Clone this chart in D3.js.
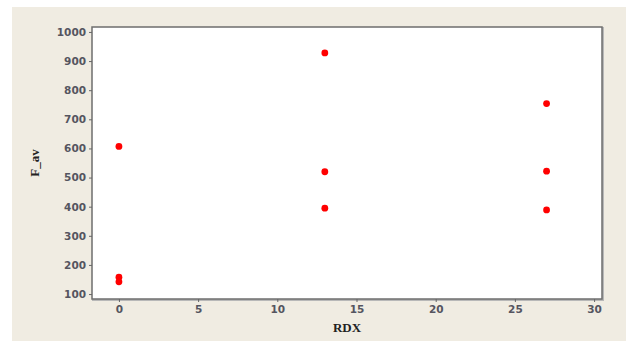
<!DOCTYPE html>
<html><head><meta charset="utf-8">
<script src="https://cdn.jsdelivr.net/npm/d3@7"></script>
<style>body{margin:0;background:#fff}svg{display:block}</style>
</head><body>
<svg id="c" width="626" height="341"></svg>
<script>
const rdx = [0, 0, 0, 13, 13, 13, 27, 27, 27];
const fav = [607, 158, 142, 928, 520, 395, 754, 522, 389];
const xTicks = [0, 5, 10, 15, 20, 25, 30];
const yTicks = [100, 200, 300, 400, 500, 600, 700, 800, 900, 1000];

const svg = d3.select("#c");
svg.append("rect").attr("x", 12).attr("y", 7).attr("width", 614).attr("height", 334).attr("fill", "#f0ece2");

const L = 92, R = 602, T = 27, B = 299;
const x = d3.scaleLinear().domain([-1.7, 30.5]).range([L, R]);
const y = d3.scaleLinear().domain([83, 1017]).range([B, T]);

// shadow + frame
svg.append("rect").attr("x", L + 1).attr("y", T + 1).attr("width", R - L).attr("height", B - T)
  .attr("fill", "none").attr("stroke", "#b8b8b8").attr("stroke-width", 2);
svg.append("rect").attr("x", L).attr("y", T).attr("width", R - L).attr("height", B - T)
  .attr("fill", "#fff").attr("stroke", "#6e6e6e").attr("stroke-width", 1.5);

const tickColor = "#555560";
const xa = svg.append("g").attr("transform", `translate(0,${B})`)
  .call(d3.axisBottom(x).tickValues(xTicks).tickFormat(d3.format("d")).tickSize(3).tickSizeOuter(0).tickPadding(4));
const ya = svg.append("g").attr("transform", `translate(${L},0)`)
  .call(d3.axisLeft(y).tickValues(yTicks).tickFormat(d3.format("d")).tickSize(3).tickSizeOuter(0).tickPadding(3));
[xa, ya].forEach(a => {
  a.select(".domain").remove();
  a.selectAll(".tick line").attr("stroke", "#666");
  a.selectAll("text").attr("fill", tickColor).attr("font-family", "Verdana, 'DejaVu Sans', sans-serif")
    .attr("font-size", 10.5).attr("font-weight", "bold");
});

svg.append("g").selectAll("circle").data(rdx.map((d, i) => [d, fav[i]])).join("circle")
  .attr("cx", d => x(d[0])).attr("cy", d => y(d[1])).attr("r", 3.4).attr("fill", "#ff0000");

svg.append("text").attr("x", (L + R) / 2 + 0).attr("y", 332).attr("text-anchor", "middle")
  .attr("font-family", "'Liberation Serif', 'Times New Roman', serif").attr("font-weight", "bold")
  .attr("font-size", 13).attr("fill", "#222").text("RDX");
svg.append("text").attr("transform", "translate(39,163) rotate(-90)").attr("text-anchor", "middle")
  .attr("font-family", "'Liberation Serif', 'Times New Roman', serif").attr("font-weight", "bold")
  .attr("font-size", 13).attr("fill", "#222").text("F_av");
</script>
</body></html>
